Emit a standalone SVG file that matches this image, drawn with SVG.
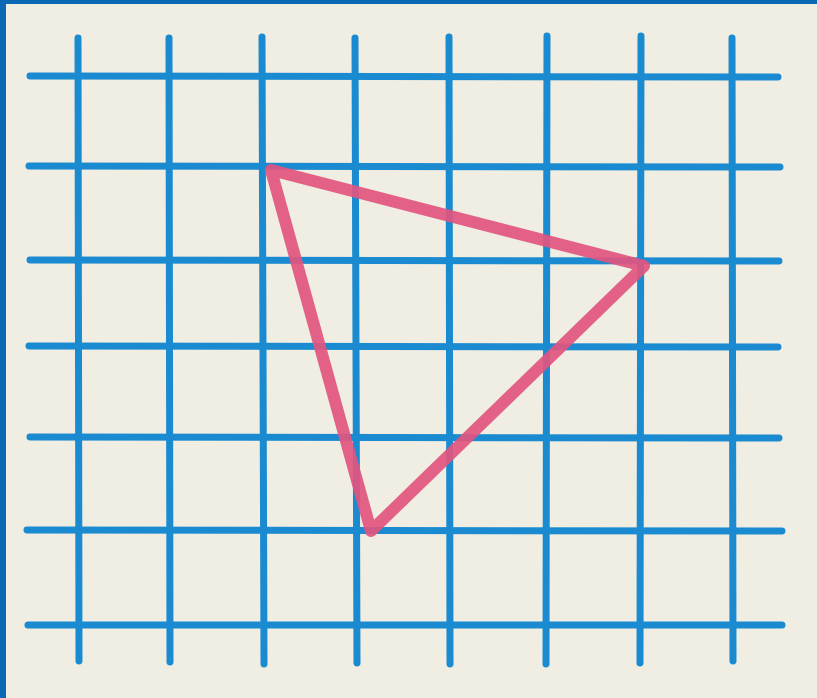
<svg xmlns="http://www.w3.org/2000/svg" width="817" height="698" viewBox="0 0 817 698">
<style>
.g line{stroke:#1a8bd0;stroke-width:7;stroke-linecap:round}
.tri{fill:none;stroke:#e2557f;stroke-width:12;stroke-linejoin:round;stroke-linecap:round;opacity:0.92}
</style>
<rect x="0" y="0" width="817" height="698" fill="#f0ede2"/>
<rect x="0" y="0" width="817" height="4" fill="#0a68b5"/>
<rect x="0" y="0" width="6" height="698" fill="#0a68b5"/>
<g id="grid" class="g">
<line x1="78" y1="38" x2="79" y2="661"/>
<line x1="169" y1="38" x2="170" y2="662"/>
<line x1="262" y1="37" x2="264" y2="664"/>
<line x1="355" y1="38" x2="357" y2="663"/>
<line x1="449" y1="37" x2="450" y2="664"/>
<line x1="547" y1="36" x2="546" y2="664"/>
<line x1="641" y1="36" x2="640" y2="663"/>
<line x1="732" y1="38" x2="733" y2="661"/>
<line x1="30" y1="76" x2="778" y2="77"/>
<line x1="29" y1="166" x2="780" y2="167"/>
<line x1="30" y1="260" x2="779" y2="261"/>
<line x1="29" y1="346" x2="778" y2="347"/>
<line x1="30" y1="437" x2="779" y2="438"/>
<line x1="27" y1="530" x2="782" y2="531"/>
<line x1="28" y1="625" x2="782" y2="625"/>
</g>
<g id="triangle">
<polygon class="tri" points="271,170 644,266 371,531"/>
</g>
</svg>
